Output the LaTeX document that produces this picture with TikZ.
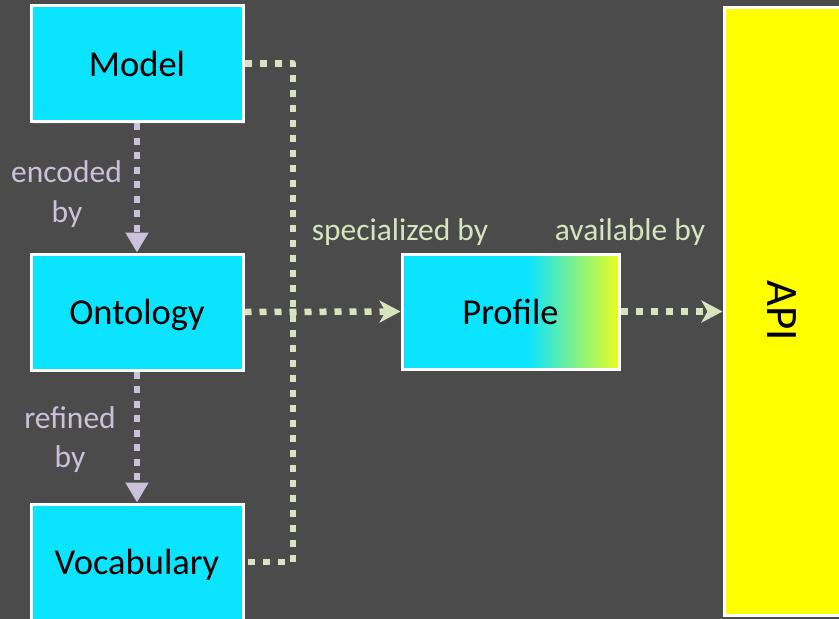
\documentclass[tikz,border=0pt]{standalone}
\usepackage{fontspec}
\setmainfont{Carlito}
\usetikzlibrary{arrows.meta,shadows}
\definecolor{bg}{RGB}{75,75,75}
\definecolor{boxcyan}{RGB}{11,228,254}
\definecolor{ygreen}{RGB}{234,253,30}
\definecolor{apiyellow}{RGB}{255,255,0}
\definecolor{lav}{RGB}{204,193,218}
\definecolor{pale}{RGB}{215,228,189}
\pgfdeclarehorizontalshading{profshade}{100bp}{color(0bp)=(boxcyan); color(25bp)=(boxcyan); color(54bp)=(boxcyan); color(75bp)=(ygreen); color(100bp)=(ygreen)}
\tikzset{
  card/.style={draw=white, line width=3pt, fill=boxcyan, minimum width=212pt,
    minimum height=116pt, inner sep=0pt, text=black,
    text height=34pt, text depth=9pt,
    font=\fontsize{36.5}{44}\selectfont,
    drop shadow={opacity=0.3, shadow xshift=2pt, shadow yshift=-2pt}},
  lbl/.style={font=\fontsize{31.5}{38}\selectfont, inner sep=0pt, anchor=base},
  lavdot/.style={draw=lav, line width=6.5pt, dash pattern=on 7pt off 7.5pt,
    -{Triangle[width=22pt,length=20pt]}},
  greendot/.style={draw=pale, line width=6.5pt, dash pattern=on 7pt off 8pt},
  greenarrow/.style={greendot, -{Stealth[width=22pt,length=21pt,inset=6pt]}}
}
\begin{document}
\begin{tikzpicture}[x=1pt,y=-1pt]
  \useasboundingbox (0,0) rectangle (839,619);
  \fill[bg] (0,0) rectangle (839,619);
  \clip (0,0) rectangle (839,619);

  % main boxes
  \node[card] (Model) at (137,63.5) {Model};
  \node[card] (Ontology) at (137,312) {Ontology};
  \node[card] (Vocabulary) at (137,562) {Vocabulary};
  \node[card, minimum width=217pt, minimum height=115pt, shading=profshade]
    (Profile) at (510.5,311.5) {Profile};
  \node[card, fill=apiyellow, minimum width=130pt, minimum height=608pt]
    (API) at (789,311) {};
  \node[font=\fontsize{45}{54}\selectfont, rotate=-90, inner sep=0pt]
    (APIlabel) at (782,310.5) {API};

  % encoding chain
  \draw[lavdot] (Model.south) -- (Ontology.north);
  \draw[lavdot] (Ontology.south) -- (Vocabulary.north);
  \node[lbl, text=lav] (enc) at (66.5,182) {encoded};
  \node[lbl, text=lav] (encby) at (67,222) {by};
  \node[lbl, text=lav] (ref) at (70,428) {refined};
  \node[lbl, text=lav] (refby) at (70,467) {by};

  % specialisation bus
  \coordinate (busX) at (293,0);
  \coordinate (busTop) at (busX |- Model.east);
  \coordinate (busBot) at (busX |- Vocabulary.east);
  \draw[greendot, line join=round] (Model.east) -- (busTop) -- (busBot) -- (Vocabulary.east);
  \draw[greenarrow] (Ontology.east) -- (Profile.west);
  \draw[greenarrow] (Profile.east) -- (Profile.east -| API.west);

  \node[lbl, text=pale] (spec) at (400,240) {specialized by};
  \node[lbl, text=pale] (avail) at (630,240) {available by};
\end{tikzpicture}
\end{document}
